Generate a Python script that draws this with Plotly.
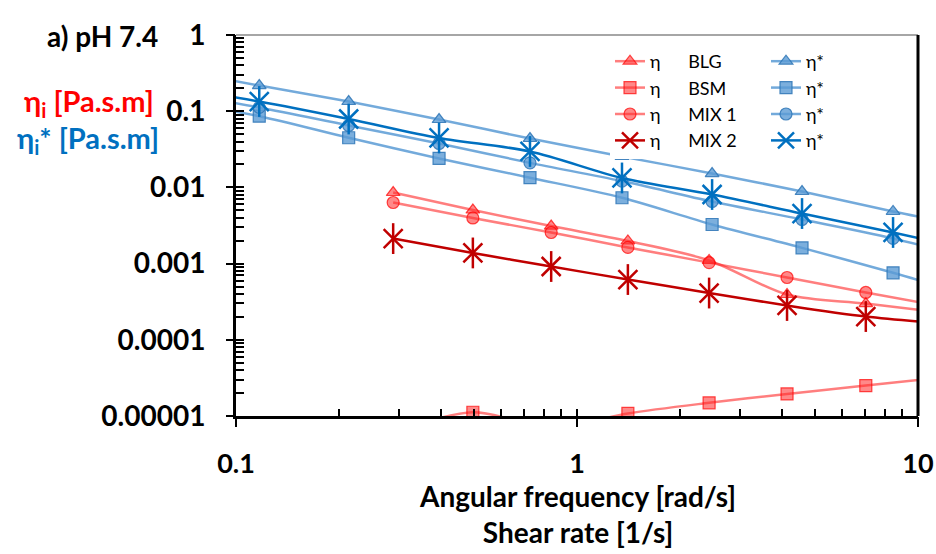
import plotly.graph_objects as go

# ---------------- data ----------------
# angular frequency for the complex viscosity (eta*) series (first/last points lie outside the axes)
x_star = [0.0636, 0.117, 0.214, 0.394, 0.728, 1.355, 2.49, 4.57, 8.45, 15.5]
blg_star = [0.36, 0.217, 0.134, 0.0778, 0.0438, 0.0255, 0.0152, 0.00883, 0.00483, 0.00281]
bsm_star = [0.138, 0.0860, 0.0448, 0.0240, 0.0134, 0.00731, 0.00326, 0.00161, 0.000757, 0.00034]
mix1_star = [0.18, 0.112, 0.0649, 0.0377, 0.0210, 0.0121, 0.00653, 0.00379, 0.00214, 0.00107]
mix2_star = [0.21, 0.134, 0.0790, 0.0445, 0.0296, 0.0133, 0.00807, 0.00454, 0.00256, 0.0014]

# shear rate for the steady viscosity (eta) series (last point lies outside the axes)
x_eta = [0.289, 0.495, 0.84, 1.41, 2.44, 4.13, 7.03, 12.0]
blg_eta = [0.00857, 0.00505, 0.00311, 0.00198, 0.0011, 0.000393, 0.000299, 0.000225]
bsm_eta = [6e-6, 1.12e-5, 7e-6, 1.08e-5, 1.49e-5, 1.95e-5, 2.51e-5, 3.24e-5]
mix1_eta = [0.00634, 0.00397, 0.00256, 0.00163, 0.00103, 0.000657, 0.000418, 0.000269]
mix2_eta = [0.00213, 0.00138, 0.000916, 0.000618, 0.000411, 0.000282, 0.000202, 0.000162]

samples = ["BLG", "BSM", "MIX 1", "MIX 2"]
y_ticks = [1, 0.1, 0.01, 0.001, 0.0001, 0.00001]
y_tick_text = ["1", "0.1", "0.01", "0.001", "0.0001", "0.00001"]
x_ticks = [0.1, 1, 10]
x_tick_text = ["0.1", "1", "10"]

# ---------------- styles ----------------
FONT = "Lato"
LR_LINE = "rgba(255,40,40,0.6)"
LR_FILL = "rgba(255,40,40,0.55)"
LR_EDGE = "rgba(255,0,0,0.7)"
DR = "#C00000"
LB_LINE = "rgba(91,155,213,0.85)"
LB_FILL = "rgba(91,155,213,0.8)"
LB_EDGE = "rgba(46,117,182,0.85)"
DB = "#0070C0"
NB = "\u00a0"

fig = go.Figure()

def add_series(x, y, name, legend, line_color, fill, edge, symbol, size, showlegend=True):
    fig.add_trace(go.Scatter(
        x=x, y=y, mode="lines+markers", name=name, legend=legend,
        line=dict(color=line_color, width=2.5, shape="spline", smoothing=0.9),
        marker=dict(symbol=symbol, size=size, color=fill, line=dict(color=edge, width=1.2)),
        showlegend=showlegend, cliponaxis=True,
    ))

def add_star(x, y, name, legend, color, showlegend=True):
    fig.add_trace(go.Scatter(
        x=x, y=y, mode="lines+markers", name=name, legend=legend,
        line=dict(color=color, width=2.5, shape="spline", smoothing=0.9),
        marker=dict(symbol="x-thin-open", size=19, color=color, line=dict(color=color, width=2.5)),
        showlegend=showlegend,
    ))
    fig.add_trace(go.Scatter(
        x=x, y=y, mode="markers", legend=legend, showlegend=False, hoverinfo="skip",
        marker=dict(symbol="line-ns-open", size=22, color=color, line=dict(color=color, width=2.5)),
    ))

red_label = lambda s: "η" + NB * 6 + s

# red (eta) series -> legend 1
add_series(x_eta, blg_eta, red_label(samples[0]), "legend", LR_LINE, LR_FILL, LR_EDGE, "triangle-up", 12)
add_series(x_eta, bsm_eta, red_label(samples[1]), "legend", LR_LINE, LR_FILL, LR_EDGE, "square", 12)
add_series(x_eta, mix1_eta, red_label(samples[2]), "legend", LR_LINE, LR_FILL, LR_EDGE, "circle", 12)
add_star(x_eta, mix2_eta, red_label(samples[3]), "legend", DR)

# blue (eta*) series -> legend 2
add_series(x_star, blg_star, "η*", "legend2", LB_LINE, LB_FILL, LB_EDGE, "triangle-up", 12)
add_series(x_star, bsm_star, "η*", "legend2", LB_LINE, LB_FILL, LB_EDGE, "square", 12)
add_series(x_star, mix1_star, "η*", "legend2", LB_LINE, LB_FILL, LB_EDGE, "circle", 12)
add_star(x_star, mix2_star, "η*", "legend2", DB)

# empty trace to activate the overlay axes that carry the outward major ticks
fig.add_trace(go.Scatter(x=[], y=[], xaxis="x2", yaxis="y2", showlegend=False))

minor_x = [m * 10 ** e for e in (-1, 0) for m in range(2, 10)]
minor_y = [m * 10 ** e for e in (-5, -4, -3, -2, -1) for m in range(2, 10)]

L, R, T, B = 236, 18, 35, 137.5
W, H = 936, 554
pw, ph = W - L - R, H - T - B

def px_x(p):
    return (p - L) / pw

def px_y(p):
    return (H - B - p) / ph

axis_common = dict(type="log", showgrid=False, zeroline=False, automargin=False)

fig.update_layout(
    width=W, height=H,
    margin=dict(l=L, r=R, t=T, b=B, autoexpand=False),
    plot_bgcolor="white", paper_bgcolor="white",
    font=dict(family=FONT, color="black"),
    xaxis=dict(
        **axis_common, range=[-1, 1],
        showline=True, linecolor="black", linewidth=3,
        ticks="inside", ticklen=7, tickwidth=2, tickcolor="black",
        tickmode="array", tickvals=x_ticks, ticktext=x_tick_text,
        tickfont=dict(family=FONT, size=27, color="black", weight="bold"),
        ticklabelstandoff=22,
        minor=dict(ticks="inside", ticklen=7, tickwidth=2, tickcolor="black", tickmode="array", tickvals=minor_x),
    ),
    yaxis=dict(
        **axis_common, range=[-5, 0],
        showline=True, linecolor="black", linewidth=3,
        ticks="inside", ticklen=8, tickwidth=2, tickcolor="black",
        tickmode="array", tickvals=y_ticks, ticktext=y_tick_text,
        tickfont=dict(family=FONT, size=28, color="black", weight="bold"),
        ticklabelstandoff=22,
        minor=dict(ticks="inside", ticklen=8, tickwidth=2, tickcolor="black", tickmode="array", tickvals=minor_y),
    ),
    xaxis2=dict(
        **axis_common, range=[-1, 1], overlaying="x", anchor="y2", side="bottom",
        showline=False, ticks="outside", ticklen=10, tickwidth=2, tickcolor="black",
        tickmode="array", tickvals=x_ticks, showticklabels=False,
    ),
    yaxis2=dict(
        **axis_common, range=[-5, 0], overlaying="y", anchor="x2", side="left",
        showline=False, ticks="outside", ticklen=9, tickwidth=2, tickcolor="black",
        tickmode="array", tickvals=y_ticks, showticklabels=False,
    ),
    legend=dict(
        x=px_x(610), y=px_y(43), xanchor="left", yanchor="top",
        bgcolor="white", borderwidth=0, traceorder="normal",
        font=dict(family=FONT, size=18, color="black"),
        tracegroupgap=0, itemwidth=30,
    ),
    legend2=dict(
        x=px_x(766), y=px_y(43), xanchor="left", yanchor="top",
        bgcolor="white", borderwidth=0, traceorder="normal",
        font=dict(family=FONT, size=18, color="black"),
        tracegroupgap=0, itemwidth=30,
    ),
    shapes=[
        dict(type="line", xref="paper", yref="paper", x0=0, x1=1, y0=1, y1=1,
             line=dict(color="#888888", width=1.5)),
        dict(type="line", xref="paper", yref="paper", x0=1, x1=1, y0=0, y1=1,
             line=dict(color="black", width=3)),
    ],
    annotations=[
        dict(text="<b>a) pH 7.4</b>", xref="paper", yref="paper", x=px_x(102), y=px_y(36),
             xanchor="center", yanchor="middle", showarrow=False,
             font=dict(family=FONT, size=28, color="black")),
        dict(text="<b>η<sub>i</sub> [Pa.s.m]</b>", xref="paper", yref="paper", x=px_x(89), y=px_y(103),
             xanchor="center", yanchor="middle", showarrow=False,
             font=dict(family=FONT, size=29, color="#FF0000")),
        dict(text="<b>η<sub>i</sub>* [Pa.s.m]</b>", xref="paper", yref="paper", x=px_x(88), y=px_y(140),
             xanchor="center", yanchor="middle", showarrow=False,
             font=dict(family=FONT, size=29, color="#0070C0")),
        dict(text="<b>Angular frequency [rad/s]<br>Shear rate [1/s]</b>", xref="paper", yref="paper",
             x=px_x(577), y=px_y(515), xanchor="center", yanchor="middle", showarrow=False,
             font=dict(family=FONT, size=28, color="black")),
    ],
)

fig.write_html("out.html")
